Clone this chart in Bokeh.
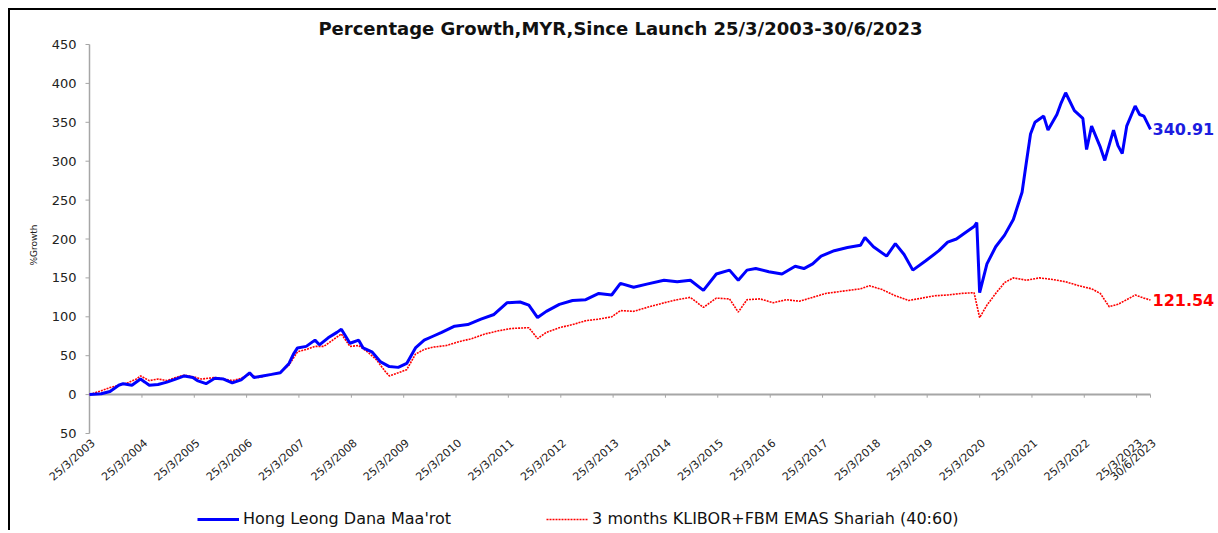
import math
import pandas as pd
from bokeh.plotting import figure
from bokeh.models import (Range1d, Label, Legend, LegendItem)
from bokeh.core.properties import value
from bokeh.embed import file_html
from bokeh.resources import INLINE

# ---------------- data ----------------
fund_name = "Hong Leong Dana Maa'rot"
bench_name = "3 months KLIBOR+FBM EMAS Shariah (40:60)"

fund_dates = [
    "2003-03-25", "2003-06-15", "2003-08-15", "2003-10-15", "2003-11-15", "2004-01-15",
    "2004-03-15", "2004-04-15", "2004-05-15", "2004-07-15", "2004-09-15", "2004-11-15",
    "2005-01-15", "2005-03-15", "2005-04-15", "2005-06-15", "2005-08-15", "2005-10-15",
    "2005-12-15", "2006-02-15", "2006-04-15", "2006-05-15", "2006-07-15", "2006-09-15",
    "2006-11-15", "2007-01-15", "2007-02-15", "2007-03-15", "2007-05-15", "2007-07-15",
    "2007-08-15", "2007-10-15", "2007-12-15", "2008-01-15", "2008-03-15", "2008-05-15",
    "2008-06-15", "2008-08-15", "2008-10-15", "2008-12-15", "2009-02-15", "2009-04-15",
    "2009-06-15", "2009-08-15", "2009-10-15", "2009-12-15", "2010-03-15", "2010-06-15",
    "2010-09-15", "2010-12-15", "2011-03-15", "2011-06-15", "2011-08-15", "2011-10-15",
    "2011-12-15", "2012-03-15", "2012-06-15", "2012-09-15", "2012-12-15", "2013-03-15",
    "2013-05-15", "2013-08-15", "2013-11-15", "2014-03-15", "2014-06-15", "2014-09-15",
    "2014-12-15", "2015-03-15", "2015-06-15", "2015-08-15", "2015-10-15", "2015-12-15",
    "2016-03-15", "2016-06-15", "2016-09-15", "2016-11-15", "2017-01-15", "2017-03-15",
    "2017-06-15", "2017-09-15", "2017-12-15", "2018-01-15", "2018-03-15", "2018-06-15",
    "2018-08-15", "2018-10-15", "2018-12-15", "2019-03-15", "2019-06-15", "2019-08-15",
    "2019-10-15", "2019-12-15", "2020-02-15", "2020-03-05", "2020-03-25", "2020-05-15",
    "2020-07-15", "2020-09-15", "2020-11-15", "2021-01-15", "2021-02-15", "2021-03-15",
    "2021-04-15", "2021-06-15", "2021-07-15", "2021-09-15", "2021-10-15", "2021-11-15",
    "2022-01-15", "2022-03-15", "2022-04-10", "2022-05-15", "2022-07-15", "2022-08-15",
    "2022-10-15", "2022-11-15", "2022-12-15", "2023-01-15", "2023-03-15", "2023-04-15",
    "2023-05-15", "2023-06-30",
]
fund_values = [
    0, 1, 4, 12, 14, 12,
    20, 16, 12, 13, 16, 20,
    24, 22, 18, 14, 21, 20,
    15, 19, 28, 22, 24, 26,
    28, 40, 52, 60, 62, 70,
    64, 73, 80, 84, 66, 70,
    60, 55, 42, 36, 35, 40,
    60, 70, 75, 80, 88, 90,
    97, 103, 118, 119, 115, 99,
    107, 116, 121, 122, 130, 128,
    143, 138, 142, 147, 145, 147,
    134, 155, 160, 147, 160, 162,
    158, 155, 165, 162, 168, 178,
    185, 189, 192, 202, 190, 178,
    194, 180, 160, 172, 185, 196,
    200, 208, 216, 221, 131, 168,
    190, 205, 225, 260, 300, 335,
    350, 358, 340, 360, 375, 388,
    365, 355, 315, 345, 318, 301,
    340, 320, 310, 345, 371, 360,
    358, 340.91,
]

bench_dates = [
    "2003-03-25", "2003-06-15", "2003-08-15", "2003-10-15", "2003-12-15", "2004-02-15",
    "2004-03-15", "2004-05-15", "2004-07-15", "2004-09-15", "2004-11-15", "2005-01-15",
    "2005-03-15", "2005-05-15", "2005-08-15", "2005-10-15", "2005-12-15", "2006-02-15",
    "2006-04-15", "2006-06-15", "2006-09-15", "2006-11-15", "2007-01-15", "2007-03-15",
    "2007-05-15", "2007-07-15", "2007-09-15", "2007-11-15", "2008-01-15", "2008-03-15",
    "2008-05-15", "2008-07-15", "2008-09-15", "2008-11-15", "2008-12-15", "2009-02-15",
    "2009-04-15", "2009-06-15", "2009-08-15", "2009-10-15", "2010-01-15", "2010-04-15",
    "2010-07-15", "2010-10-15", "2011-01-15", "2011-04-15", "2011-08-15", "2011-10-15",
    "2011-12-15", "2012-03-15", "2012-06-15", "2012-09-15", "2012-12-15", "2013-03-15",
    "2013-05-15", "2013-08-15", "2013-11-15", "2014-03-15", "2014-06-15", "2014-09-15",
    "2014-12-15", "2015-03-15", "2015-06-15", "2015-08-15", "2015-10-15", "2016-01-15",
    "2016-04-15", "2016-07-15", "2016-10-15", "2017-01-15", "2017-04-15", "2017-08-15",
    "2017-12-15", "2018-02-15", "2018-05-15", "2018-08-15", "2018-11-15", "2019-02-15",
    "2019-05-15", "2019-08-15", "2019-11-15", "2020-02-15", "2020-03-25", "2020-05-15",
    "2020-07-15", "2020-09-15", "2020-11-15", "2021-02-15", "2021-05-15", "2021-08-15",
    "2021-11-15", "2022-02-15", "2022-05-15", "2022-07-15", "2022-09-15", "2022-11-15",
    "2023-01-15", "2023-03-15", "2023-05-15", "2023-06-30",
]
bench_values = [
    0, 5, 9, 12, 15, 20,
    24, 18, 20, 18, 22, 25,
    23, 20, 22, 20, 18, 21,
    26, 22, 26, 28, 38, 55,
    58, 62, 62, 70, 78, 62,
    63, 55, 45, 30, 24, 28,
    32, 52, 58, 61, 63, 68,
    72, 78, 82, 85, 86, 72,
    80, 86, 90, 95, 97, 100,
    108, 107, 112, 118, 122, 125,
    112, 124, 123, 106, 122, 123,
    118, 122, 120, 125, 130, 133,
    136, 140, 135, 127, 121, 124,
    127, 128, 130, 131, 99, 115,
    130, 144, 150, 147, 150, 148,
    145, 140, 136, 130, 113, 116,
    122, 128, 124, 121.54,
]

tick_dates = [
    "2003-03-25", "2004-03-25", "2005-03-25", "2006-03-25", "2007-03-25", "2008-03-25",
    "2009-03-25", "2010-03-25", "2011-03-25", "2012-03-25", "2013-03-25", "2014-03-25",
    "2015-03-25", "2016-03-25", "2017-03-25", "2018-03-25", "2019-03-25", "2020-03-25",
    "2021-03-25", "2022-03-25", "2023-03-25", "2023-06-30",
]
tick_labels = [
    "25/3/2003", "25/3/2004", "25/3/2005", "25/3/2006", "25/3/2007", "25/3/2008",
    "25/3/2009", "25/3/2010", "25/3/2011", "25/3/2012", "25/3/2013", "25/3/2014",
    "25/3/2015", "25/3/2016", "25/3/2017", "25/3/2018", "25/3/2019", "25/3/2020",
    "25/3/2021", "25/3/2022", "25/3/2023", "30/6/2023",
]
y_ticks = [-50, 0, 50, 100, 150, 200, 250, 300, 350, 400, 450]
y_tick_labels = ["50", "0", "50", "100", "150", "200", "250", "300", "350", "400", "450"]

title_text = "Percentage Growth,MYR,Since Launch 25/3/2003-30/6/2023"
y_label = "%Growth"

# ---------------- helpers ----------------
def ms(d):
    return pd.Timestamp(d).value / 1e6

fx = [pd.Timestamp(d) for d in fund_dates]
bx = [pd.Timestamp(d) for d in bench_dates]
tick_ms = [ms(d) for d in tick_dates]

BLUE = "#0000FF"
RED = "#FF0000"
GRAY = "#A6A6A6"
FONT = "DejaVu Sans"

# ---------------- layout geometry (pixels) ----------------
W, H = 1208, 522          # canvas, placed at (10, 10) inside the black frame
TOP_GAP = 34              # "450" gridline sits 34 px below the canvas top
AXIS_X = 79               # y axis 79 px into the canvas
DATA_W = 1061             # pixels spanned by the dates
PX_PER_UNIT = 389 / 500.0
y_top = y_ticks[-1] + TOP_GAP / PX_PER_UNIT
y_bottom = y_top - H / PX_PER_UNIT

x0, x1 = ms(tick_dates[0]), ms(tick_dates[-1])
ms_per_px = (x1 - x0) / DATA_W
x_start = x0 - AXIS_X * ms_per_px
x_end = x0 + (W - AXIS_X) * ms_per_px

p = figure(width=W, height=H, x_axis_type="datetime",
           output_backend="svg", toolbar_location=None,
           x_range=Range1d(x_start, x_end), y_range=Range1d(y_bottom, y_top),
           min_border=0)
p.styles = {"margin-left": "8px", "margin-top": "8px",
            "border-left": "2px solid black", "border-top": "2px solid black"}
p.outline_line_color = None
p.grid.visible = False
p.xaxis.visible = False
p.yaxis.visible = False
p.background_fill_color = "white"
p.border_fill_color = "white"

# title (drawn inside the canvas)
p.add_layout(Label(x=x0 + 531 * ms_per_px, y=y_top, y_offset=-18, text=title_text,
                   text_align="center", text_baseline="middle",
                   text_font=FONT, text_font_style="bold", text_font_size="18px",
                   text_color="#111111"))

# y axis: line, ticks, labels, title
p.segment(x0=[x0], x1=[x0], y0=[y_ticks[0]], y1=[y_ticks[-1]], line_color=GRAY, line_width=1.5)
p.segment(x0=[x0 - 4 * ms_per_px] * len(y_ticks), x1=[x0] * len(y_ticks),
          y0=y_ticks, y1=y_ticks, line_color=GRAY, line_width=1)
p.text(x=[x0] * len(y_ticks), y=y_ticks, text=y_tick_labels, x_offset=-13,
       text_align="right", text_baseline="middle",
       text_font=value(FONT), text_font_size="13px", text_color="#222222")
p.add_layout(Label(x=x0, y=(y_ticks[0] + y_ticks[-1]) / 2, text=y_label, angle=math.pi / 2,
                   x_offset=-56, y_offset=-6, text_align="center", text_baseline="middle",
                   text_font=FONT, text_font_size="9px", text_color="#222222"))

# zero line with year ticks
p.segment(x0=[x0], x1=[x1], y0=[0], y1=[0], line_color=GRAY, line_width=2)
p.segment(x0=tick_ms, x1=tick_ms, y0=[0] * len(tick_ms), y1=[-4] * len(tick_ms),
          line_color=GRAY, line_width=1)

# rotated date labels under the plot
p.text(x=tick_ms, y=[y_ticks[0]] * len(tick_ms), text=tick_labels, angle=0.72,
       x_offset=4, y_offset=8, text_align="right", text_baseline="middle",
       text_font=value(FONT), text_font_size="11px", text_color="#222222")

# series
r_bench = p.line(bx, bench_values, line_color=RED, line_width=1.6, line_dash="2 1")
r_fund = p.line(fx, fund_values, line_color=BLUE, line_width=3)

# end labels
p.add_layout(Label(x=ms(fund_dates[-1]), y=fund_values[-1], text=f"{fund_values[-1]:.2f}",
                   x_offset=2, text_baseline="middle", text_color="#1C1CE0",
                   text_font=FONT, text_font_style="bold", text_font_size="16px"))
p.add_layout(Label(x=ms(bench_dates[-1]), y=bench_values[-1], text=f"{bench_values[-1]:.2f}",
                   x_offset=2, text_baseline="middle", text_color=RED,
                   text_font=FONT, text_font_style="bold", text_font_size="16px"))

# legend at the bottom of the canvas
legend = Legend(items=[LegendItem(label=fund_name, renderers=[r_fund]),
                       LegendItem(label=bench_name, renderers=[r_bench])],
                orientation="horizontal", location=(187, 4),
                glyph_width=42, glyph_height=16, label_standoff=4, spacing=95,
                padding=0, margin=0, border_line_color=None, background_fill_alpha=0,
                label_text_font=FONT, label_text_font_size="16px", label_text_color="#111111")
p.add_layout(legend, "center")

open("out.html", "w").write(file_html(p, INLINE))
